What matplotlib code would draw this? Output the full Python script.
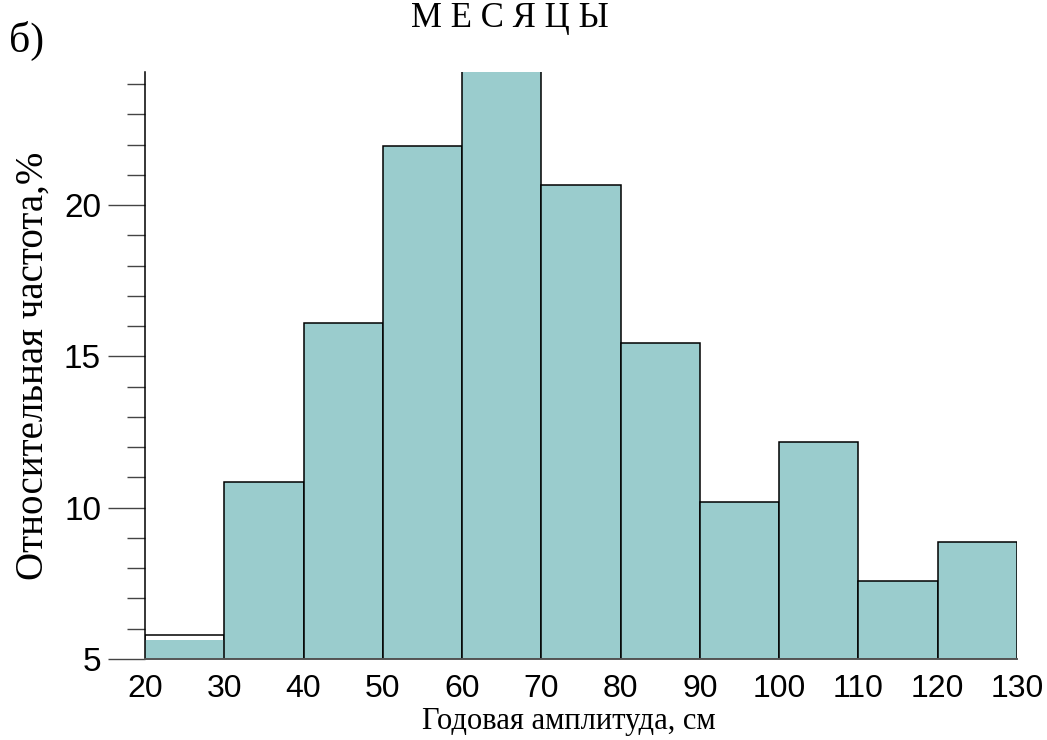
import matplotlib
matplotlib.use("Agg")
import matplotlib.pyplot as plt
from matplotlib.ticker import MultipleLocator

# bin edges (cm) and relative frequency (%)
bin_left = [20, 30, 40, 50, 60, 70, 80, 90, 100, 110, 120]
freq = [5.62, 10.84, 16.09, 21.96, 25.0, 20.68, 15.43, 10.18, 12.16, 7.57, 8.86]
first_outline = 5.78  # outline of the first bin sits slightly above its fill
x_ticks = [20, 30, 40, 50, 60, 70, 80, 90, 100, 110, 120, 130]
y_ticks = [5, 10, 15, 20]

fig = plt.figure(figsize=(10.47, 7.40), dpi=100)
ax = fig.add_axes([0.1385, 0.1095, 0.8328, 0.7932])

# outline of first bin (white), then the teal bars
ax.bar(bin_left[0], first_outline - 5, width=10, bottom=5, align='edge',
       color='white', edgecolor='black', linewidth=1.1)
ax.bar(bin_left[0], freq[0] - 5, width=10, bottom=5, align='edge',
       color='#9acccd', edgecolor='none')
ax.bar(bin_left[1:], [f - 5 for f in freq[1:]], width=10, bottom=5, align='edge',
       color='#9acccd', edgecolor='black', linewidth=1.1)

ax.set_xlim(20, 130)
ax.set_ylim(5, 24.4)

for s in ['top', 'right']:
    ax.spines[s].set_visible(False)
ax.spines['left'].set_linewidth(1.1)
ax.spines['bottom'].set_color('#555555')
ax.spines['bottom'].set_linewidth(1.4)

ax.set_xticks(x_ticks)
ax.set_xticklabels([str(t) for t in x_ticks], fontfamily='Liberation Sans', fontsize=23)
ax.tick_params(axis='x', length=0, pad=11)
ax.set_yticks(y_ticks)
ax.set_yticklabels([str(t) for t in y_ticks], fontfamily='Liberation Sans', fontsize=24)
ax.yaxis.set_minor_locator(MultipleLocator(1))
ax.tick_params(axis='y', which='major', length=26.6, width=1.0, color='#444444', pad=5)
ax.tick_params(axis='y', which='minor', length=13, width=1.0, color='#444444')

ax.set_xlabel('Годовая амплитуда, см', fontfamily='Liberation Serif', fontsize=22)
ax.xaxis.set_label_coords(0.486, -0.082)
ax.set_ylabel('Относительная частота,%', fontfamily='Liberation Serif', fontsize=28, labelpad=9)

fig.text(0.487, 0.964, 'М Е С Я Ц Ы', ha='center', va='baseline',
         fontfamily='Liberation Serif', fontsize=25)
fig.text(0.009, 0.945, 'б)', ha='left', va='center',
         fontfamily='Liberation Serif', fontsize=30)

fig.savefig('out.png', dpi=100)
